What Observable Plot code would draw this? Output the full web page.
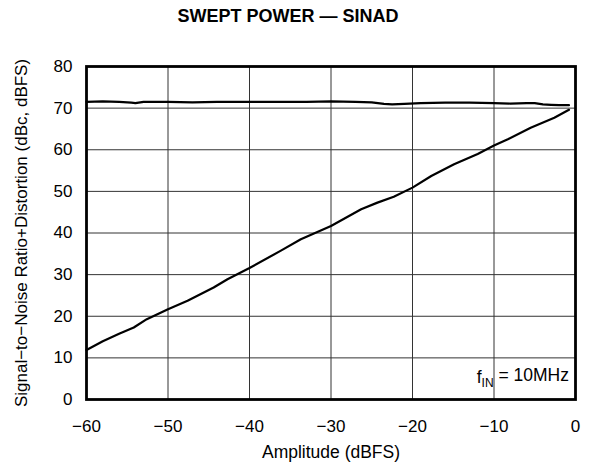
<!DOCTYPE html>
<html><head><meta charset="utf-8">
<script src="https://cdn.jsdelivr.net/npm/d3@7"></script>
<script src="https://cdn.jsdelivr.net/npm/@observablehq/plot@0.6"></script>
<style>
body{margin:0;background:#fff;font-family:"Liberation Sans",Arial,sans-serif;}
#title{height:40px;width:595px;position:relative;}
#title span{position:absolute;left:288px;top:6px;line-height:20px;transform:translateX(-50%);font-weight:bold;font-size:18px;white-space:nowrap;}
</style></head><body>
<div id="title"><span>SWEPT POWER — SINAD</span></div>
<div id="chart"></div>
<script>
const xTicks = [-60,-50,-40,-30,-20,-10,0];
const yTicks = [0,10,20,30,40,50,60,70,80];
// SNR+D (top curve)
const topAmp = [-60,-58,-56,-54.5,-54,-53,-50,-47,-44,-40,-36,-33,-30,-27,-25,-23.5,-22.5,-21,-19,-16,-13,-10,-8,-6,-5,-4,-3,-2,-0.8];
const topVal = [71.5,71.6,71.5,71.3,71.2,71.5,71.5,71.4,71.5,71.5,71.5,71.5,71.6,71.5,71.4,71.0,70.9,71.0,71.2,71.3,71.3,71.2,71.1,71.2,71.2,70.9,70.8,70.7,70.7];
// SINAD (rising curve)
const botAmp = [-60,-58,-56,-54.2,-52.6,-50,-47.6,-44.4,-42.7,-40,-36.2,-33.7,-30,-26.3,-24.3,-22.3,-20,-17.7,-14.9,-12,-10,-8.3,-5.5,-2.6,-0.8];
const botVal = [11.9,14.0,15.8,17.3,19.3,21.7,23.7,26.9,28.9,31.6,35.7,38.5,41.7,45.7,47.3,48.7,50.9,53.7,56.5,59.0,61.0,62.5,65.3,67.7,69.6];

const topData = topAmp.map((x,i)=>({x, y: topVal[i]}));
const botData = botAmp.map((x,i)=>({x, y: botVal[i]}));

const chart = Plot.plot({
  width: 595, height: 427,
  marginTop: 26, marginBottom: 68, marginLeft: 86, marginRight: 20,
  style: {fontFamily: '"Liberation Sans", Arial, sans-serif', fontSize: "17px", color: "#000", background: "#fff"},
  x: {domain: [-60, 0]},
  y: {domain: [0, 80]},
  marks: [
    Plot.gridX(xTicks, {stroke: "#333", strokeOpacity: 1, strokeWidth: 1}),
    Plot.gridY(yTicks, {stroke: "#333", strokeOpacity: 1, strokeWidth: 1}),
    Plot.axisX(xTicks, {tickSize: 0, tickPadding: 20, fontSize: 17, tickFormat: d => d < 0 ? "\u2212" + Math.abs(d) : String(d),
      label: null}),
    Plot.axisX({ticks: [], tickSize: 0, fontSize: 17.5,
      label: "Amplitude (dBFS)", labelAnchor: "center", labelArrow: "none", labelOffset: 58}),
    Plot.axisY(yTicks, {tickSize: 0, tickPadding: 14, fontSize: 17,
      label: "Signal\u2212to\u2212Noise Ratio+Distortion (dBc, dBFS)", labelAnchor: "center", labelArrow: "none", labelOffset: 72}),
    Plot.line(topData, {x: "x", y: "y", stroke: "#000", strokeWidth: 2.2}),
    Plot.line(botData, {x: "x", y: "y", stroke: "#000", strokeWidth: 2.2}),
    Plot.text([{x: -0.8, y: 5.3}], {x: "x", y: "y", text: () => "fIN = 10MHz", textAnchor: "end", fontSize: 17.5, fill: "#000", className: "fin"}),
    Plot.frame({stroke: "#000", strokeWidth: 2.8})
  ]
});
document.getElementById("chart").appendChild(chart);
// subscript for f_IN
d3.select(chart).selectAll(".fin text").each(function(){
  const t = d3.select(this);
  t.text(null);
  t.append("tspan").text("f");
  t.append("tspan").attr("dy", "0.3em").attr("font-size", "12px").text("IN");
  t.append("tspan").attr("dy", "-0.3em").text(" = 10MHz");
});
</script>
</body></html>
